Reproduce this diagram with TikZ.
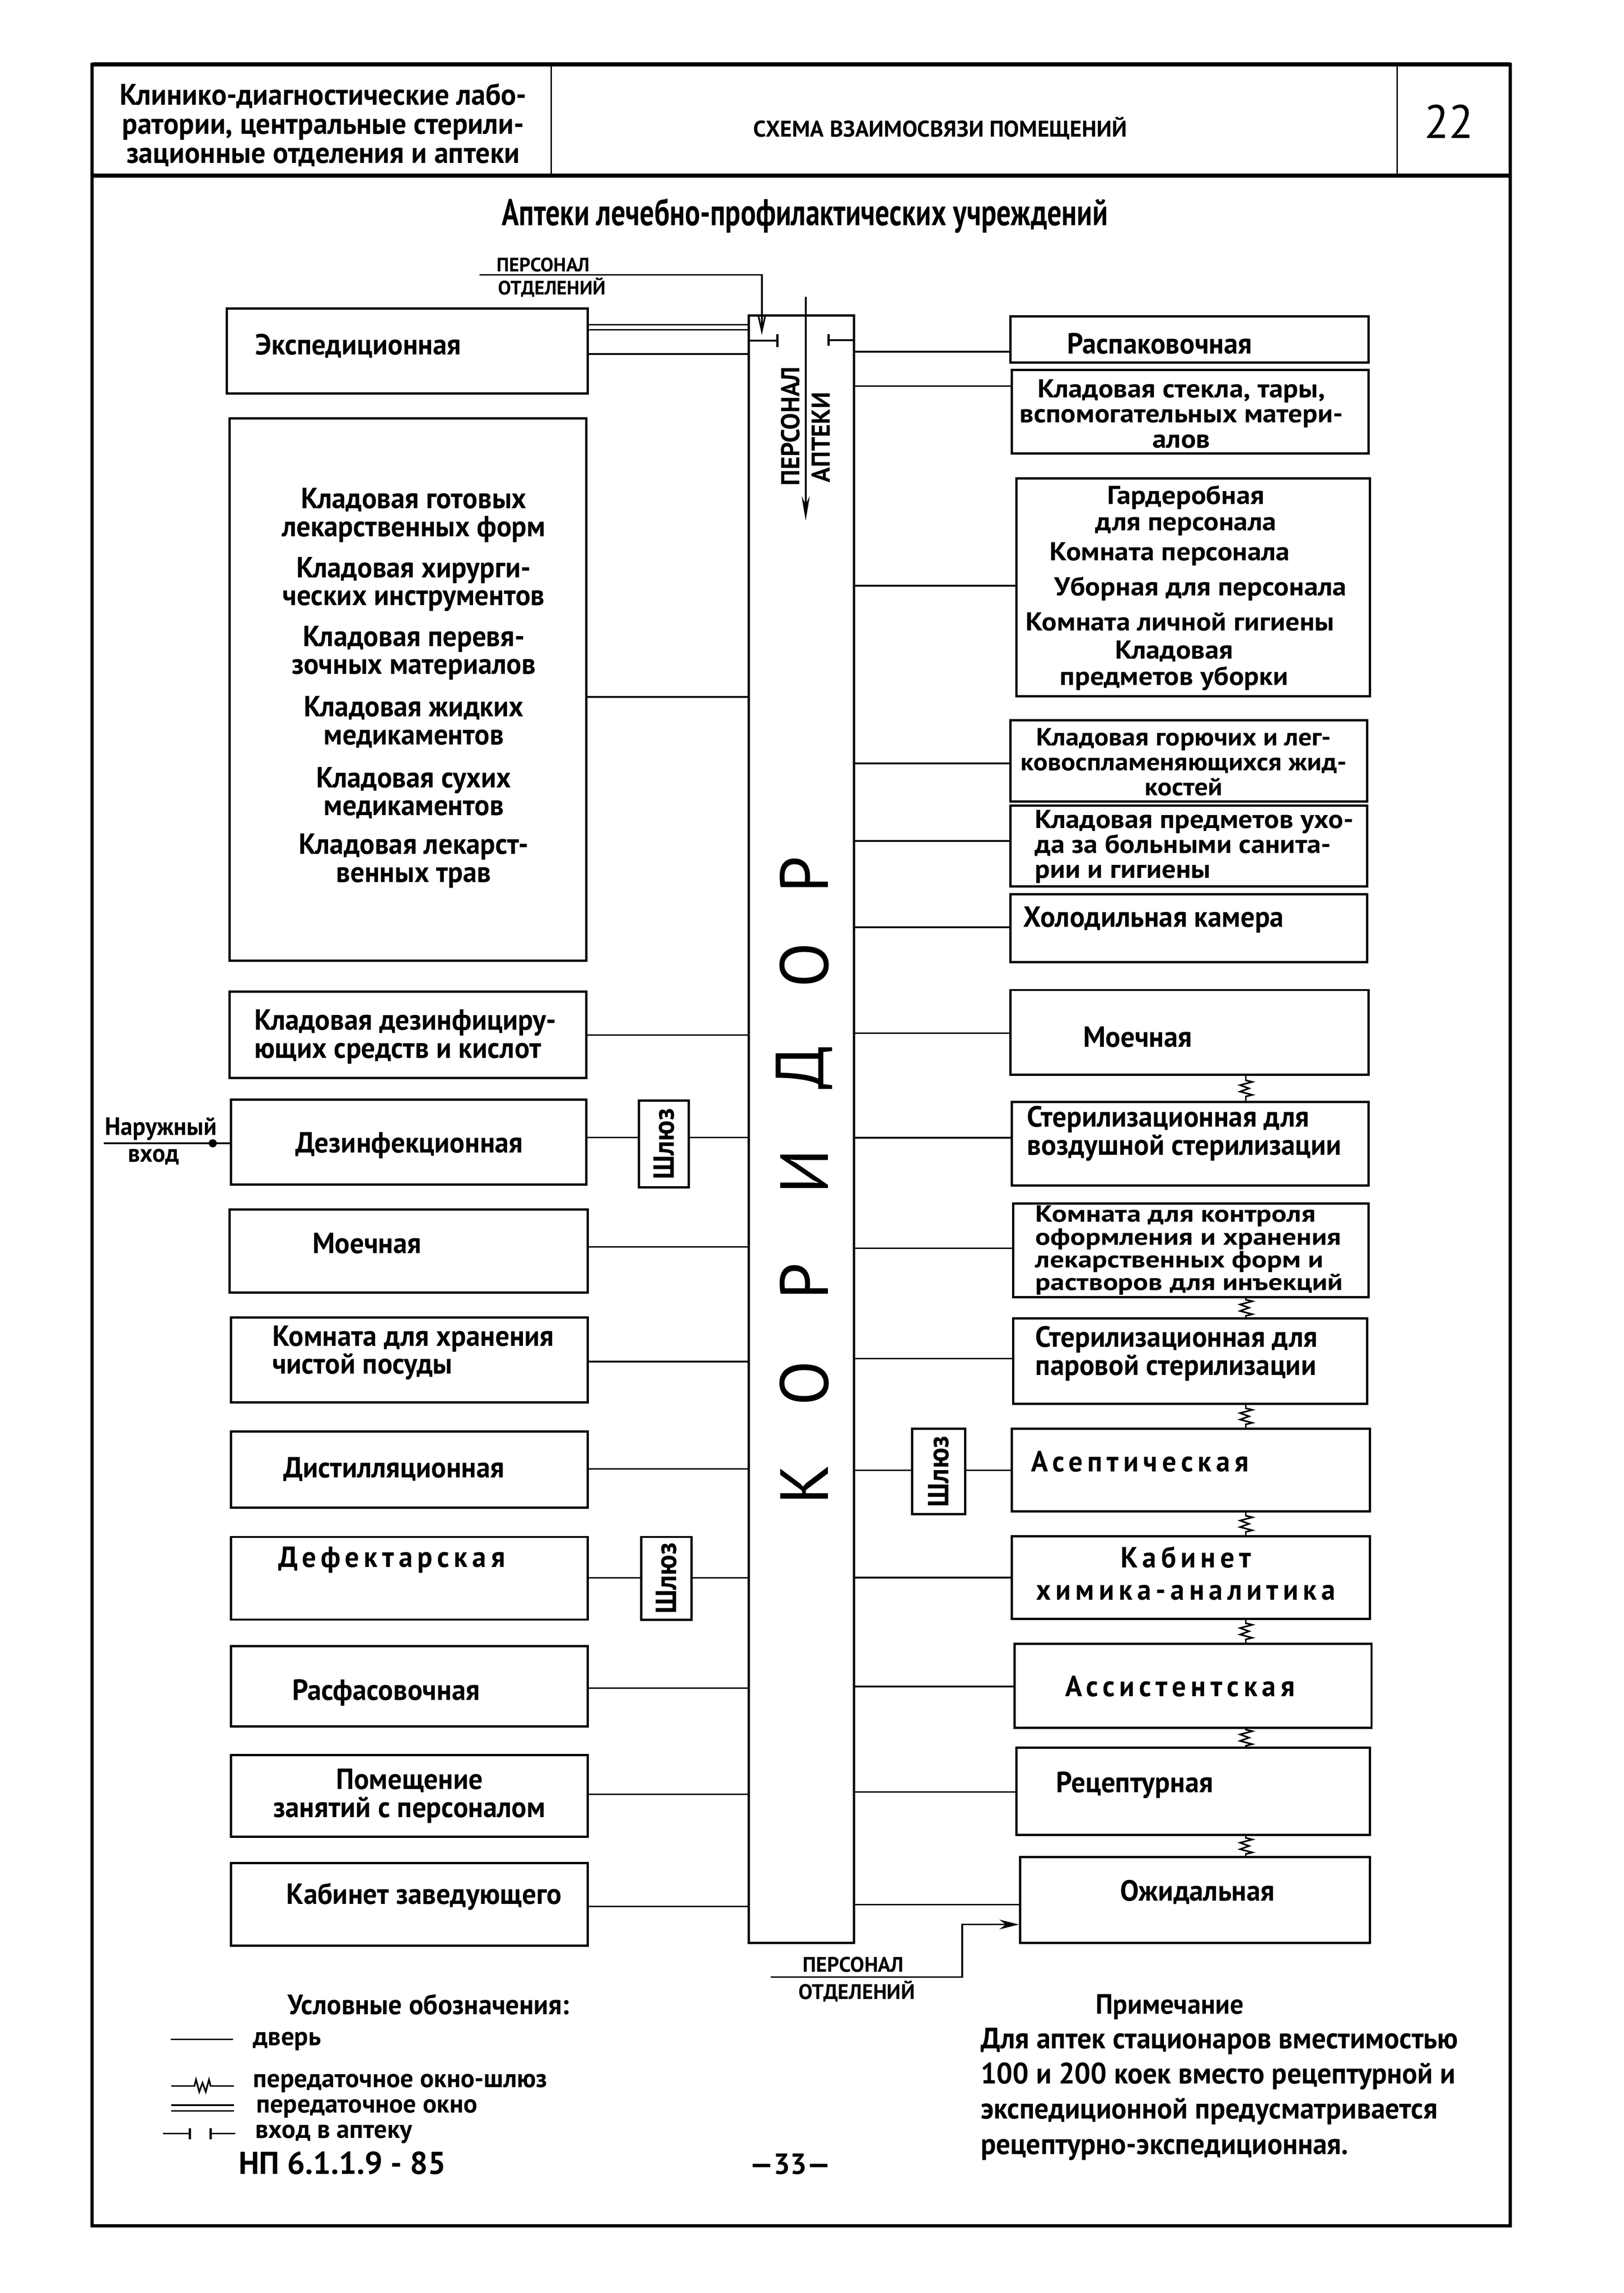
\documentclass[tikz,border=0pt]{standalone}
\usepackage{fontspec}
\setmainfont{PT Sans}[FakeStretch=0.96]
\newfontfamily\hdfont{PT Sans}[FakeStretch=0.76]
\newfontfamily\widefont{PT Sans}
\newfontfamily\tfont{PT Sans}[FakeStretch=1.08]
\newfontfamily\ttfont{PT Sans}[FakeStretch=1.2]
\newfontfamily\spfont{PT Sans}[FakeStretch=0.96, LetterSpace=16]
\usetikzlibrary{fit,arrows.meta,decorations.markings}

\begin{document}
\begin{tikzpicture}[x=0.03168cm, y=-0.03168cm,
	room/.style = {draw, line width=1.4pt, inner sep=0pt},
	lbl/.style = {font=\bfseries\fontsize{18}{17.3}\selectfont, inner sep=0pt, align=center},
	lbll/.style = {lbl, align=left, anchor=west},
	tight/.style = {font=\tfont\bfseries\fontsize{16}{15.4}\selectfont},
	tightpair/.style = {font=\tfont\bfseries\fontsize{16}{16.2}\selectfont},
	tighter/.style = {font=\ttfont\bfseries\fontsize{14.5}{14}\selectfont},
	spaced/.style = {font=\spfont\bfseries\fontsize{18}{20}\selectfont},
	leg/.style = {lbll, font=\widefont\bfseries\fontsize{16}{16}\selectfont},
	door/.style = {line width=1pt},
	tick/.style = {line width=1.4pt},
	shluzwin/.style = {line width=1pt, postaction=decorate, decoration={markings, mark=at position 0.5 with {\fill[white] (-4.5pt,-4.5pt) rectangle (4.5pt,4.5pt); \draw[line width=1pt] (-5pt,0pt) -- (-4pt,4pt) -- (-2pt,-3.5pt) -- (0pt,2pt) -- (2pt,-3.5pt) -- (4pt,4pt) -- (5pt,0pt);}}}
]
	\useasboundingbox (0,0) rectangle (1110.5,1568);

	\draw[line width=2pt] (63,44) rectangle (1033,1522);
	\draw[line width=2.6pt] (63,44) -- (1033,44);
	\draw[line width=2.6pt] (63,120) -- (1033,120);
	\draw[line width=1pt] (377,44) -- (377,120);
	\draw[line width=1pt] (955.5,44) -- (955.5,120);
	\node[font=\bfseries\fontsize{18.4}{18}\selectfont, align=center, inner sep=0pt] (hdl) at (221,85.5) {Клинико-диагностические лабо-\\ратории, центральные стерили-\\зационные отделения и аптеки};
	\node[font=\widefont\bfseries\fontsize{14}{16}\selectfont, inner sep=0pt] (hdm) at (643,87.8) {СХЕМА ВЗАИМОСВЯЗИ ПОМЕЩЕНИЙ};
	\node[font=\fontsize{29}{30}\selectfont, inner sep=0pt] (hdr) at (991,83) {22};
	\node[font=\hdfont\bfseries\fontsize{23}{25}\selectfont, inner sep=0pt] (title) at (550.5,147.5) {Аптеки лечебно-профилактических учреждений};

	\node[room, fit={(512,215.7) (584,1328.6)}] (cor) {};
	\foreach \ch/\y [count=\i] in {Р/598, О/660, Д/730, И/801, Р/876, О/946, К/1015}
		\node[font=\fontsize{42}{42}\selectfont, rotate=90, inner sep=0pt] (kor\i) at (550,\y) {\ch};
	\node[font=\bfseries\fontsize{16}{16}\selectfont, rotate=90, inner sep=0pt] (pa1) at (540.5,291.5) {ПЕРСОНАЛ};
	\node[font=\bfseries\fontsize{16}{16}\selectfont, rotate=90, inner sep=0pt] (pa2) at (561.5,299) {АПТЕКИ};
	\coordinate (pa-top) at (551,203);
	\coordinate (pa-end) at (551,356);
	\draw[line width=1.2pt, -{Stealth[length=15pt,width=5pt]}] (pa-top) -- (pa-end);

	\node[font=\widefont\bfseries\fontsize{12}{12}\selectfont, inner sep=0pt] (po1) at (371.5,181) {ПЕРСОНАЛ};
	\node[font=\widefont\bfseries\fontsize{12}{12}\selectfont, inner sep=0pt] (po2) at (377.5,196.5) {ОТДЕЛЕНИЙ};
	\coordinate (po-start) at (328,188);
	\draw[door, -{Straight Barb[length=9pt,width=4pt]}] (po-start) -- (521,188) -- (521,229);
	\draw[door] (cor.west |- 0,233) -- (531.6,233);
	\draw[tick] (531.6,228.5) -- (531.6,237.5);
	\draw[door] (cor.east |- 0,232.6) -- (566.6,232.6);
	\draw[tick] (566.6,228.5) -- (566.6,236.5);

	\node[room, fit={(155,211) (402,269)}] (exp) {};
	\node[room, fit={(157,286) (401,657)}] (gotov) {};
	\node[room, fit={(157,678) (401,737)}] (dezkl) {};
	\node[room, fit={(158,752) (401,810)}] (dezinf) {};
	\node[room, fit={(157,827) (402,884)}] (moyL) {};
	\node[room, fit={(158,901) (402,959)}] (chist) {};
	\node[room, fit={(158,979) (402,1031)}] (dist) {};
	\node[room, fit={(158,1051) (402,1107.5)}] (defekt) {};
	\node[room, fit={(158,1125.5) (402,1180.5)}] (rasfas) {};
	\node[room, fit={(158,1200) (402,1256)}] (zanyat) {};
	\node[room, fit={(158,1274) (402,1330.5)}] (zaved) {};
	\node[room, fit={(437,752.5) (471,812)}] (shl1) {};
	\node[room, fit={(438.6,1051) (473,1107.6)}] (shl3) {};

	\node[room, fit={(691,216.5) (936,248)}] (raspak) {};
	\node[room, fit={(692,253) (936,310)}] (steklo) {};
	\node[room, fit={(695,327) (937,476)}] (garder) {};
	\node[room, fit={(691,492.5) (935,548)}] (goruch) {};
	\node[room, fit={(691,551) (935,606)}] (ukhod) {};
	\node[room, fit={(691,611.5) (935,658)}] (kholod) {};
	\node[room, fit={(691,677) (936,735)}] (moyR) {};
	\node[room, fit={(692,753.5) (936,810.6)}] (stervoz) {};
	\node[room, fit={(693,823) (936,887)}] (kontrol) {};
	\node[room, fit={(693,901.5) (935,960)}] (sterpar) {};
	\node[room, fit={(692,977) (937,1033.4)}] (asept) {};
	\node[room, fit={(692,1050.6) (937,1107)}] (khimik) {};
	\node[room, fit={(694,1124) (938,1181.5)}] (assist) {};
	\node[room, fit={(695,1195) (937,1254.6)}] (recept) {};
	\node[room, fit={(697.6,1270) (937,1328.6)}] (ozhid) {};
	\node[room, fit={(623.7,977) (660,1035.5)}] (shl2) {};

	\draw[door] (exp.east |- 0,222) -- (cor.west |- 0,222);
	\draw[door] (exp.east |- 0,225.5) -- (cor.west |- 0,225.5);
	\draw[door] (exp.east |- 0,242) -- (cor.west |- 0,242);
	\draw[door] (gotov.east |- 0,476.6) -- (cor.west |- 0,476.6);
	\draw[door] (dezkl.east |- 0,707.7) -- (cor.west |- 0,707.7);
	\draw[door] (dezinf.east |- 0,777.8) -- (shl1.west |- 0,777.8);
	\draw[door] (shl1.east |- 0,777.8) -- (cor.west |- 0,777.8);
	\draw[door] (moyL.east |- 0,852.6) -- (cor.west |- 0,852.6);
	\draw[door] (chist.east |- 0,931) -- (cor.west |- 0,931);
	\draw[door] (dist.east |- 0,1004.5) -- (cor.west |- 0,1004.5);
	\draw[door] (defekt.east |- 0,1079) -- (shl3.west |- 0,1079);
	\draw[door] (shl3.east |- 0,1079) -- (cor.west |- 0,1079);
	\draw[door] (rasfas.east |- 0,1154.4) -- (cor.west |- 0,1154.4);
	\draw[door] (zanyat.east |- 0,1227) -- (cor.west |- 0,1227);
	\draw[door] (zaved.east |- 0,1303.6) -- (cor.west |- 0,1303.6);

	\draw[door] (cor.east |- 0,240.5) -- (raspak.west |- 0,240.5);
	\draw[door] (cor.east |- 0,264) -- (steklo.west |- 0,264);
	\draw[door] (cor.east |- 0,400.5) -- (garder.west |- 0,400.5);
	\draw[door] (cor.east |- 0,522) -- (goruch.west |- 0,522);
	\draw[door] (cor.east |- 0,575) -- (ukhod.west |- 0,575);
	\draw[door] (cor.east |- 0,634) -- (kholod.west |- 0,634);
	\draw[door] (cor.east |- 0,706.5) -- (moyR.west |- 0,706.5);
	\draw[door] (cor.east |- 0,778) -- (stervoz.west |- 0,778);
	\draw[door] (cor.east |- 0,853.6) -- (kontrol.west |- 0,853.6);
	\draw[door] (cor.east |- 0,929) -- (sterpar.west |- 0,929);
	\draw[door] (cor.east |- 0,1005.4) -- (shl2.west |- 0,1005.4);
	\draw[door] (shl2.east |- 0,1005.4) -- (asept.west |- 0,1005.4);
	\draw[door] (cor.east |- 0,1078.8) -- (khimik.west |- 0,1078.8);
	\draw[door] (cor.east |- 0,1153.3) -- (assist.west |- 0,1153.3);
	\draw[door] (cor.east |- 0,1225.4) -- (recept.west |- 0,1225.4);
	\draw[door] (cor.east |- 0,1302.4) -- (ozhid.west |- 0,1302.4);

	\draw[shluzwin] (moyR.south -| 852,0) -- (stervoz.north -| 852,0);
	\draw[shluzwin] (kontrol.south -| 852,0) -- (sterpar.north -| 852,0);
	\draw[shluzwin] (sterpar.south -| 852,0) -- (asept.north -| 852,0);
	\draw[shluzwin] (asept.south -| 852,0) -- (khimik.north -| 852,0);
	\draw[shluzwin] (khimik.south -| 852,0) -- (assist.north -| 852,0);
	\draw[shluzwin] (assist.south -| 852,0) -- (recept.north -| 852,0);
	\draw[shluzwin] (recept.south -| 852,0) -- (ozhid.north -| 852,0);

	\node[lbl] (exp-t) at (245,236.7) {Экспедиционная};
	\node[lbl] (gt1) at (283,352.4) {Кладовая готовых\\лекарственных форм};
	\node[lbl] (gt2) at (283,399.5) {Кладовая хирурги-\\ческих инструментов};
	\node[lbl] (gt3) at (283,446.5) {Кладовая перевя-\\зочных материалов};
	\node[lbl] (gt4) at (283,493.7) {Кладовая жидких\\медикаментов};
	\node[lbl] (gt5) at (283,542.2) {Кладовая сухих\\медикаментов};
	\node[lbl] (gt6) at (283,588.6) {Кладовая лекарст-\\венных трав};
	\node[lbll] (dezkl-t) at (173.8,709) {Кладовая дезинфициру-\\ющих средств и кислот};
	\node[lbl] (dezinf-t) at (280,783.4) {Дезинфекционная};
	\node[lbl] (moyL-t) at (251,850.2) {Моечная};
	\node[lbll] (chist-t) at (186,925) {Комната для хранения\\чистой посуды};
	\node[lbl] (dist-t) at (269.5,1004.7) {Дистилляционная};
	\node[lbl, spaced] (defekt-t) at (268,1066.8) {Дефектарская};
	\node[lbl] (rasfas-t) at (264,1157.5) {Расфасовочная};
	\node[lbl] (zanyat-t) at (280,1228) {Помещение\\занятий с персоналом};
	\node[lbl] (zaved-t) at (290,1297) {Кабинет заведующего};
	\node[lbl, rotate=90] (shl1-t) at (shl1.center) {Шлюз};
	\node[lbl, rotate=90] (shl2-t) at (shl2.center) {Шлюз};
	\node[lbl, rotate=90] (shl3-t) at (shl3.center) {Шлюз};

	\node[lbl] (raspak-t) at (793,235) {Распаковочная};
	\node[lbl, tight] (steklo-t) at (808,283) {Кладовая стекла, тары,\\вспомогательных матери-\\алов};
	\node[lbl, tightpair] (g1) at (811,349) {Гардеробная\\для персонала};
	\node[lbl, tight] (g2) at (800,379) {Комната персонала};
	\node[lbl, tight] (g3) at (821,402.7) {Уборная для персонала};
	\node[lbl, tight] (g4) at (807,425.3) {Комната личной гигиены};
	\node[lbl, tightpair] (g5) at (803,455) {Кладовая\\предметов уборки};
	\node[lbl, font=\tfont\bfseries\fontsize{15.3}{15.4}\selectfont] (goruch-t) at (809.5,521) {Кладовая горючих и лег-\\ковоспламеняющихся жид-\\костей};
	\node[lbll, tight] (ukhod-t) at (707.6,579) {Кладовая предметов ухо-\\да за больными санита-\\рии и гигиены};
	\node[lbll] (kholod-t) at (699.5,629) {Холодильная камера};
	\node[lbl] (moyR-t) at (778,709) {Моечная};
	\node[lbll] (stervoz-t) at (702.3,775) {Стерилизационная для\\воздушной стерилизации};
	\node[lbll, tighter] (kontrol-t) at (708,855) {Комната для контроля\\оформления и хранения\\лекарственных форм и\\растворов для инъекций};
	\node[lbll] (sterpar-t) at (708,925.5) {Стерилизационная для\\паровой стерилизации};
	\node[lbll, spaced] (asept-t) at (705,999.3) {Асептическая};
	\node[lbl, spaced] (khimik-t) at (811,1075.8) {Кабинет\\химика-аналитика};
	\node[lbl, spaced] (assist-t) at (807,1153.3) {Ассистентская};
	\node[lbl] (recept-t) at (776,1220.8) {Рецептурная};
	\node[lbl] (ozhid-t) at (819,1294) {Ожидальная};

	\node[lbl, font=\bfseries\fontsize{15.5}{14}\selectfont] (nar) at (110,772) {Наружный};
	\node[lbl, font=\bfseries\fontsize{15.5}{14}\selectfont] (vkhod) at (105,791) {вход};
	\coordinate (nar-start) at (71,781.8);
	\draw[door] (nar-start) -- (dezinf.west |- 0,781.8);
	\fill (145.5,781.8) circle (2.5pt);

	\node[font=\widefont\bfseries\fontsize{13}{13}\selectfont, inner sep=0pt] (po3) at (583.5,1343.5) {ПЕРСОНАЛ};
	\node[font=\widefont\bfseries\fontsize{13}{13}\selectfont, inner sep=0pt] (po4) at (586,1361.7) {ОТДЕЛЕНИЙ};
	\coordinate (po-start2) at (527,1352);
	\draw[door, -{Stealth[length=12pt,width=6pt]}] (po-start2) -- (658,1352) -- (658,1316) -- (ozhid.west |- 0,1316);

	\node[lbl, font=\bfseries\fontsize{17.3}{17}\selectfont] (uslov) at (293,1370.7) {Условные обозначения:};
	\draw[door] (116.7,1394.6) -- (159.4,1394.6);
	\node[leg] (dver) at (173,1396) {дверь};
	\draw[shluzwin] (117,1426.5) -- (160,1426.5);
	\node[leg] (okshl) at (173,1424.5) {передаточное окно-шлюз};
	\draw[door] (117,1439.5) -- (160,1439.5);
	\draw[door] (117,1443.5) -- (160,1443.5);
	\node[leg] (okno) at (175,1442) {передаточное окно};
	\draw[door] (111.5,1459) -- (130,1459);
	\draw[tick] (130,1455.3) -- (130,1462.8);
	\draw[tick] (144,1455.3) -- (144,1462.8);
	\draw[door] (144,1459) -- (161,1459);
	\node[leg] (vkhodapt) at (174.5,1459.5) {вход в аптеку};
	\node[lbll, font=\widefont\bfseries\fontsize{19.5}{19.5}\selectfont] (np) at (163,1479) {НП 6.1.1.9 - 85};
	\node[lbl, font=\widefont\bfseries\fontsize{18}{18}\selectfont] (pg) at (540.5,1480) {—33—};

	\node[lbl, font=\bfseries\fontsize{17.3}{17}\selectfont] (prim) at (800,1372.4) {Примечание};
	\node[lbll, font=\bfseries\fontsize{18.2}{21.7}\selectfont] (note) at (670.5,1431.9) {Для аптек стационаров вместимостью\\100 и 200 коек вместо рецептурной и\\экспедиционной предусматривается\\рецептурно-экспедиционная.};
\end{tikzpicture}
\end{document}
